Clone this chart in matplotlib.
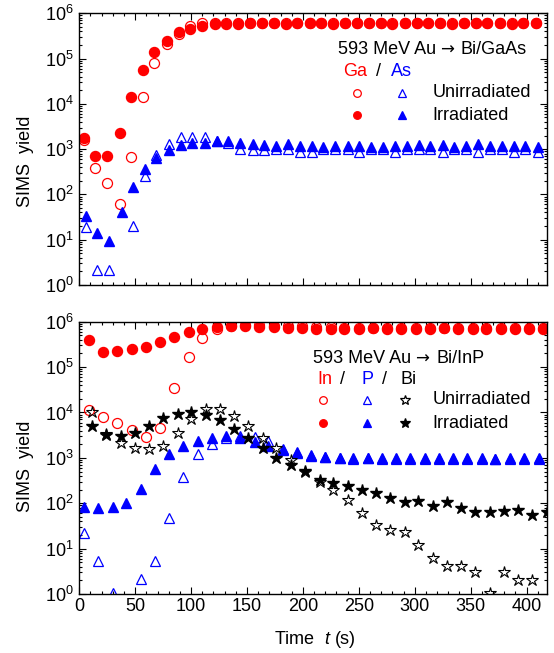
import numpy as np
import matplotlib
matplotlib.use('Agg')
import matplotlib.pyplot as plt
from matplotlib.ticker import MultipleLocator, LogLocator, NullFormatter

plt.rcParams['font.family'] = ['Liberation Sans', 'DejaVu Sans']
plt.rcParams['mathtext.fontset'] = 'custom'
plt.rcParams['mathtext.rm'] = 'Liberation Sans'
plt.rcParams['mathtext.it'] = 'Liberation Sans:italic'
plt.rcParams['font.size'] = 13

RED = '#ff0000'
BLUE = '#0000ff'

# --- верхня панель: Bi/GaAs ---
t_top_circ = [4, 14, 25, 36, 46, 57, 67, 78, 89, 99, 110, 121, 131, 142, 153, 163, 174, 185, 195, 206,
              216, 227, 238, 248, 259, 270, 280, 291, 302, 312, 323, 333, 344, 355, 365, 376, 387, 397, 408]
t_top_tri = [6, 16, 27, 38, 48, 59, 69, 80, 91, 101, 112, 123, 133, 144, 155, 165, 176, 187, 197, 208,
             218, 229, 240, 250, 261, 272, 282, 293, 304, 314, 325, 335, 346, 357, 367, 378, 389, 399, 410]

ga_unirr = [1600, 380, 175, 63, 680, 14000, 79000, 210000, 350000, 530000, 610000, 620000, 600000,
            610000, 600000, 600000, 610000, 600000, 600000, 610000, 600000, 600000, 600000, 610000,
            600000, 600000, 610000, 600000, 600000, 600000, 610000, 600000, 600000, 600000, 610000,
            600000, 600000, 600000, 600000]
ga_irr = [1740, 720, 710, 2300, 14500, 56000, 137000, 250000, 380000, 440000, 525000, 570000, 580000,
          590000, 600000, 600000, 600000, 590000, 600000, 600000, 600000, 590000, 600000, 600000,
          600000, 600000, 590000, 600000, 600000, 600000, 600000, 590000, 600000, 600000, 600000,
          600000, 590000, 600000, 600000]
as_unirr = [19.5, 2.1, 2.1, np.nan, 20, 255, 740, 1280, 1830, 1900, 1830, 1500, 1350, 1000, 960, 960,
            1000, 1000, 880, 880, 1000, 1000, 1000, 880, 1000, 1000, 880, 1000, 1000, 1000, 880, 1000,
            1000, 880, 1000, 1000, 880, 1000, 880]
as_irr = [33, 14, 9.5, 40, 143, 360, 640, 950, 1230, 1350, 1380, 1480, 1480, 1400, 1300, 1250, 1200,
          1280, 1200, 1200, 1140, 1200, 1200, 1200, 1140, 1140, 1200, 1200, 1230, 1200, 1230, 1140,
          1200, 1280, 1200, 1200, 1200, 1200, 1140]

# --- нижня панель: Bi/InP ---
t_bot_circ = [9, 21, 34, 47, 60, 72, 85, 98, 110, 123, 136, 148, 161, 174, 187, 199, 212, 225, 237,
              250, 263, 275, 288, 301, 314, 326, 339, 352, 364, 377, 390, 402, 415]
t_bot_tri = [4, 17, 30, 42, 55, 68, 80, 93, 106, 119, 131, 144, 157, 169, 182, 195, 207, 220, 233,
             245, 258, 271, 283, 296, 309, 322, 334, 347, 360, 372, 385, 398, 411]
t_bot_star = [11, 24, 37, 50, 62, 75, 88, 100, 113, 126, 138, 151, 164, 176, 189, 202, 215, 227, 240,
              253, 265, 278, 291, 303, 316, 329, 341, 354, 367, 380, 392, 405, 418]

in_unirr = [11400, 8100, 5800, 4100, 2830, 4500, 34000, 170000, 445000, 680000, 800000, 830000,
            830000, 820000, 800000, 790000, 760000, 750000, 740000, 740000, 730000, 740000, 730000,
            730000, 740000, 730000, 730000, 740000, 730000, 730000, 740000, 730000, 730000]
in_irr = [396000, 218000, 226000, 246000, 281000, 363000, 460000, 584000, 690000, 750000, 800000,
          800000, 776000, 750000, 716000, 716000, 690000, 700000, 690000, 700000, 710000, 690000,
          700000, 690000, 700000, 710000, 700000, 690000, 700000, 700000, 690000, 700000, 700000]
p_unirr = [22, 5.4, 1.05, np.nan, 2.1, 5.4, 48, 373, 1200, 2050, 2800, 3000, 2950, 2300, 1600, 1350,
           1150, 1050, 1000, 950, 980, 950, 960, 930, 950, 960, 940, 950, 960, 930, 950, 940, 950]
p_irr = [84, 78, 84, 100, 205, 570, 1230, 1860, 2340, 2790, 3090, 2790, 2190, 1780, 1500, 1260, 1120,
         1070, 1000, 980, 990, 990, 980, 970, 990, 980, 990, 980, 990, 960, 980, 990, 980]
bi_unirr = [10500, 3300, 2090, 1620, 1580, 1790, 3470, 7250, 12000, 12000, 8500, 5130, 2790, 1680,
            900, 480, 300, 195, 118, 60, 33, 26, 23.6, 12, 6.2, 4.2, 4.2, 3.0, 1.03, 3.0, 2.05, 2.05,
            np.nan]
bi_irr = [5130, 3170, 3090, 3470, 5130, 7400, 9100, 10100, 9000, 6800, 4360, 2690, 1620, 1010, 680,
          515, 323, 276, 244, 195, 170, 132, 108, 112, 87, 105, 78, 63, 65, 68, 71, 55, 65]

W, H = 554, 653
fig = plt.figure(figsize=(W / 100, H / 100), dpi=100)


def px_axes(left, top, right, bottom):
    return fig.add_axes([left / W, 1 - bottom / H, (right - left) / W, (bottom - top) / H])


ax1 = px_axes(79.3, 13.3, 546.7, 285)
ax2 = px_axes(79.3, 321.7, 546.7, 594)

ms = 7.2
open_kw = dict(ls='none', mfc='none', mew=0.9, clip_on=True)

# верхня панель
ax1.plot(t_top_circ, ga_unirr, 'o', ms=ms, mec=RED, **open_kw)
ax1.plot(t_top_circ, ga_irr, 'o', ms=ms, color=RED, ls='none')
ax1.plot(t_top_tri, as_unirr, '^', ms=ms, mec=BLUE, **open_kw)
ax1.plot(t_top_tri, as_irr, '^', ms=ms, color=BLUE, ls='none')

# нижня панель
ax2.plot(t_bot_circ, in_unirr, 'o', ms=ms, mec=RED, **open_kw)
ax2.plot(t_bot_circ, in_irr, 'o', ms=ms, color=RED, ls='none')
ax2.plot(t_bot_tri, p_unirr, '^', ms=ms, mec=BLUE, **open_kw)
ax2.plot(t_bot_tri, p_irr, '^', ms=ms, color=BLUE, ls='none')
ax2.plot(t_bot_star, bi_unirr, '*', ms=9, mec='black', ls='none', mfc='none', mew=0.8)
ax2.plot(t_bot_star, bi_irr, '*', ms=9, color='black', ls='none')

for ax in (ax1, ax2):
    ax.set_yscale('log')
    ax.set_xlim(0, 418)
    ax.set_ylim(1, 1e6)
    ax.xaxis.set_major_locator(MultipleLocator(50))
    ax.xaxis.set_minor_locator(MultipleLocator(10))
    ax.yaxis.set_major_locator(LogLocator(base=10, numticks=10))
    ax.yaxis.set_minor_locator(LogLocator(base=10, subs=np.arange(2, 10), numticks=20))
    ax.yaxis.set_minor_formatter(NullFormatter())
    ax.tick_params(which='both', direction='in', top=True, right=True, width=0.8)
    ax.tick_params(which='major', length=5)
    ax.tick_params(which='minor', length=2.5)
    ax.tick_params(axis='y', pad=4)
    ax.tick_params(axis='x', pad=3)
    for s in ax.spines.values():
        s.set_linewidth(1.0)

ax1.tick_params(axis='x', labelbottom=False)


def fx(x):
    return x / W


def fy(y):
    return 1 - y / H


def mark(x, y, m, filled, color, size=5.5):
    fig.lines.append(plt.Line2D([fx(x)], [fy(y)], marker=m, ms=size, ls='none',
                                mfc=color if filled else 'none', mec=color, mew=0.9,
                                transform=fig.transFigure))


def title_line(x0, xa, x1, y, tail):
    # "593 MeV Au -> tail", стрілка ширша (DejaVu)
    fig.text(fx(x0), fy(y), '593 MeV Au', va='center', ha='left')
    fig.text(fx(xa), fy(y), '\u2192', va='center', ha='center', family='DejaVu Sans', fontsize=12)
    fig.text(fx(x1), fy(y), tail, va='center', ha='left')


# легенда верхньої панелі
title_line(337.7, 447, 460, 50, 'Bi/GaAs')
fig.text(fx(342.7), fy(71.7), 'Ga', color=RED, va='center', ha='left')
fig.text(fx(378), fy(71.7), '/', va='center', ha='center')
fig.text(fx(390.7), fy(71.7), 'As', color=BLUE, va='center', ha='left')
mark(357.3, 92.7, 'o', False, RED)
mark(401.7, 92.7, '^', False, BLUE)
mark(357.3, 115, 'o', True, RED)
mark(401.7, 115, '^', True, BLUE)
fig.text(fx(432.3), fy(92.7), 'Unirradiated', va='center', ha='left')
fig.text(fx(432.3), fy(115), 'Irradiated', va='center', ha='left')

# легенда нижньої панелі
title_line(312.7, 422, 436, 358.3, 'Bi/InP')
fig.text(fx(317.7), fy(380), 'In', color=RED, va='center', ha='left')
fig.text(fx(343), fy(380), '/', va='center', ha='center')
fig.text(fx(361.7), fy(380), 'P', color=BLUE, va='center', ha='left')
fig.text(fx(385), fy(380), '/', va='center', ha='center')
fig.text(fx(400), fy(380), 'Bi', va='center', ha='left')
mark(322.7, 400, 'o', False, RED)
mark(366.7, 400, '^', False, BLUE)
mark(405, 400, '*', False, 'black', 7)
mark(322.7, 423.3, 'o', True, RED)
mark(366.7, 423.3, '^', True, BLUE)
mark(405, 423.3, '*', True, 'black', 7)
fig.text(fx(432.3), fy(400), 'Unirradiated', va='center', ha='left')
fig.text(fx(432.3), fy(423.3), 'Irradiated', va='center', ha='left')

# підписи осей
fig.text(fx(25), fy(161), 'SIMS  yield', rotation=90, va='center', ha='center')
fig.text(fx(25), fy(466), 'SIMS  yield', rotation=90, va='center', ha='center')
fig.text(fx(314.7), fy(640), 'Time  $\\it{t}$ (s)', va='center', ha='center')

fig.savefig('out.png', dpi=100)
